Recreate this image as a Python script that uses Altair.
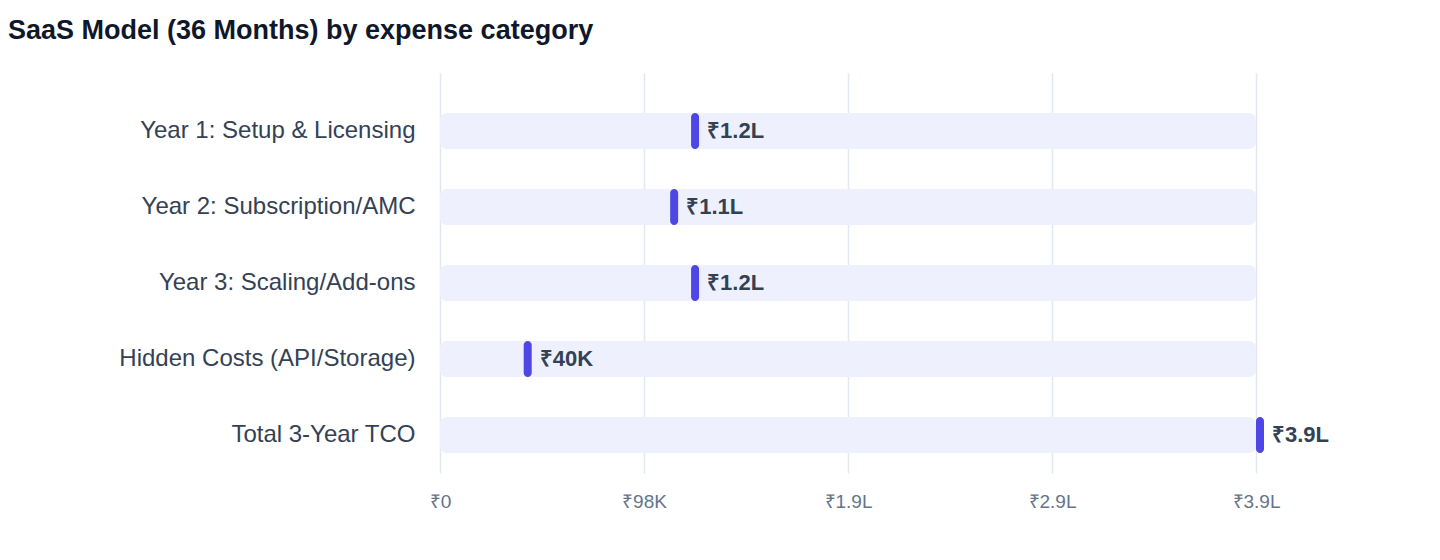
import pandas as pd
import altair as alt

# expense categories and their amounts (INR)
categories = [
    'Year 1: Setup & Licensing',
    'Year 2: Subscription/AMC',
    'Year 3: Scaling/Add-ons',
    'Hidden Costs (API/Storage)',
    'Total 3-Year TCO',
]
amounts = [120000, 110000, 120000, 40000, 390000]
amount_labels = ['₹1.2L', '₹1.1L', '₹1.2L', '₹40K', '₹3.9L']
tick_values = [0, 97500, 195000, 292500, 390000]

df = pd.DataFrame({'category': categories, 'amount': amounts, 'label': amount_labels})
df['full'] = max(amounts)

font = 'Liberation Sans'

y_enc = alt.Y('category:N', sort=categories, title=None,
              scale=alt.Scale(paddingInner=0, paddingOuter=0.1316, align=1),
              axis=alt.Axis(labelFontSize=24, labelColor='#334155', labelFont=font,
                            labelPadding=25, ticks=False, domain=False, grid=False,
                            minExtent=432, labelLimit=420))
x_scale = alt.Scale(domain=[0, max(amounts)], nice=False)

# light background track for every row
track = alt.Chart(df).mark_bar(height=36, cornerRadius=7, color='#eef1fd').encode(
    x=alt.X('zero:Q', scale=x_scale, title=None,
            axis=alt.Axis(values=tick_values, grid=True, gridColor='#e2e8f0', gridWidth=1.5,
                          ticks=False, domain=False, labelFontSize=19, labelColor='#64748b',
                          labelFont=font, labelPadding=19, labelFlush=False,
                          labelExpr="datum.value >= 100000 ? '₹' + floor(datum.value / 10000) / 10 + 'L' : "
                                    "datum.value >= 1000 ? '₹' + round(datum.value / 1000) + 'K' : '₹' + datum.value")),
    x2='full:Q',
    y=y_enc,
).transform_calculate(zero='0')

marker = alt.Chart(df).mark_tick(thickness=8, size=36, cornerRadius=4, xOffset=4,
                                 color='#4f46e5', opacity=1).encode(
    x=alt.X('amount:Q', scale=x_scale),
    y=alt.Y('category:N', sort=categories),
)

labels = alt.Chart(df).mark_text(align='left', baseline='middle', dx=16, fontSize=22,
                                 fontWeight='bold', color='#334155', font=font).encode(
    x=alt.X('amount:Q', scale=x_scale),
    y=alt.Y('category:N', sort=categories),
    text='label:N',
)

chart = alt.layer(track, marker, labels).properties(
    width=816,
    height=400,
    padding={'left': 0, 'top': 9, 'right': 5, 'bottom': 5},
    title=alt.TitleParams('SaaS Model (36 Months) by expense category', anchor='start',
                          frame='bounds', fontSize=27, fontWeight='bold', color='#0f172a',
                          font=font, offset=28),
).configure_view(stroke=None)

chart.save("out.html", embed_options={"renderer": "svg", "actions": False})
